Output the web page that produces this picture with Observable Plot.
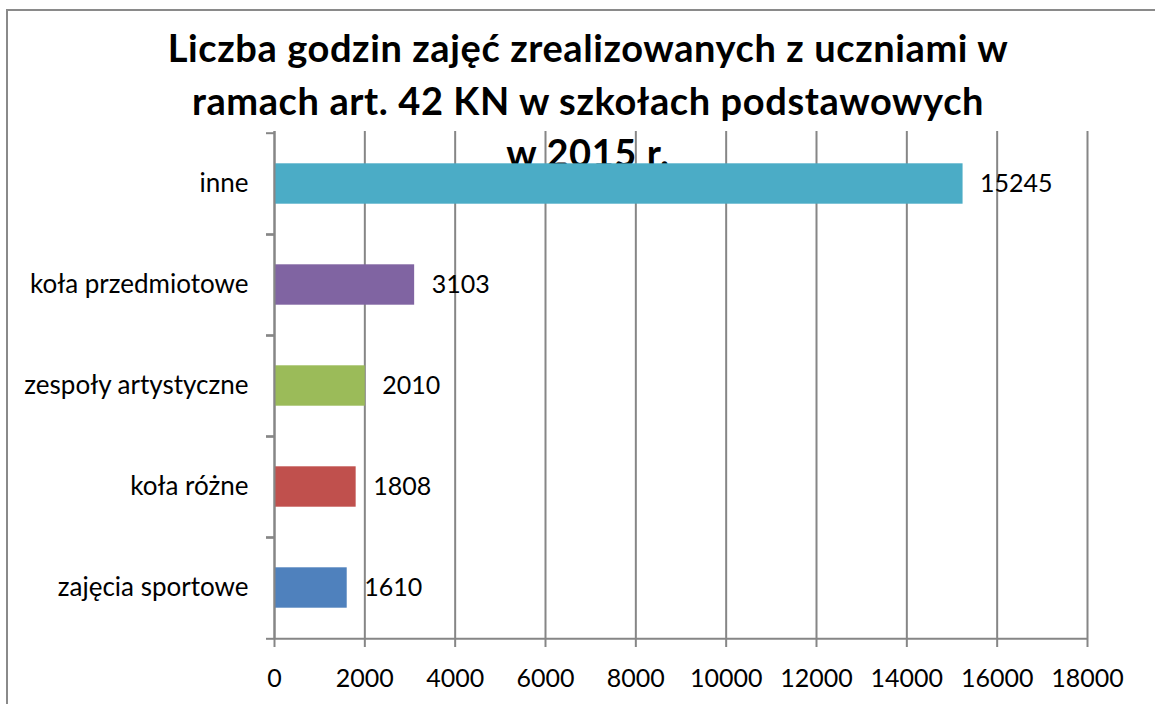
<!DOCTYPE html>
<html>
<head>
<meta charset="utf-8">
<script src="https://cdn.jsdelivr.net/npm/d3@7"></script>
<script src="https://cdn.jsdelivr.net/npm/@observablehq/plot@0.6"></script>
<style>
  html, body { margin: 0; padding: 0; background: white; }
  #wrap { position: relative; width: 1155px; height: 704px; overflow: hidden; font-family: Lato, "Open Sans", sans-serif; }
  #border { position: absolute; left: 6px; top: 9px; width: 1300px; height: 800px; border-left: 2px solid #8a8a8a; border-top: 2px solid #8a8a8a; z-index: 0; }
  #title { position: absolute; left: 0; top: 21px; width: 1176px; text-align: center; font-weight: bold; font-size: 38px; letter-spacing: 0.6px; line-height: 52.5px; color: #000; z-index: 1; }
  #chart { position: absolute; left: 0; top: 0; z-index: 2; }
</style>
</head>
<body>
<div id="wrap">
  <div id="border"></div>
  <div id="title">Liczba godzin zajęć zrealizowanych z uczniami w<br>ramach art. 42 KN w szkołach podstawowych<br>w 2015 r.</div>
  <div id="chart"></div>
</div>
<script>
const categories = ["zajęcia sportowe", "koła różne", "zespoły artystyczne", "koła przedmiotowe", "inne"];
const values = [1610, 1808, 2010, 3103, 15245];
const colors = ["#4F81BD", "#C0504D", "#9BBB59", "#8064A2", "#4BACC6"];
const xTicks = [0, 2000, 4000, 6000, 8000, 10000, 12000, 14000, 16000, 18000];

const data = categories.map((c, i) => ({category: c, value: values[i], color: colors[i]}));

const width = 1155, height = 704;
const marginTop = 131, marginBottom = 65, marginLeft = 274, marginRight = 68;
const step = (height - marginTop - marginBottom) / categories.length;
const barH = 41;
const inset = (step - barH) / 2;
const gray = "#868686";

const chart = Plot.plot({
  width, height, marginTop, marginBottom, marginLeft, marginRight,
  style: {background: "transparent", fontFamily: "Lato, 'Open Sans', sans-serif", fontSize: "25px", color: "#000"},
  x: {domain: [0, 18000], ticks: xTicks, label: null},
  y: {domain: categories.slice().reverse(), padding: 0, label: null},
  marks: [
    Plot.gridX(xTicks, {stroke: gray, strokeOpacity: 1, strokeWidth: 2}),
    Plot.axisX({ticks: xTicks, tickSize: 8, tickPadding: 22, stroke: gray, strokeWidth: 2, fontSize: 25, tickFormat: d => String(d), fill: "#000"}),
    Plot.axisY({tickSize: 8, tickFormat: () => "", dy: step / 2, stroke: gray, strokeWidth: 2}),
    Plot.axisY({tickSize: 8, tickFormat: () => "", dy: -step / 2, stroke: gray, strokeWidth: 2}),
    Plot.axisY({tickSize: 0, tickPadding: 26, fontSize: 26, fill: "#000", style: "letter-spacing: 0.5px"}),
    Plot.barX(data, {y: "category", x: "value", fill: d => d.color, insetTop: inset, insetBottom: inset}),
    Plot.ruleX([0], {stroke: gray, strokeWidth: 2}),
    Plot.ruleY(data.slice(0, 1), {y: "category", dy: step / 2, stroke: gray, strokeWidth: 2, x1: 0, x2: 18000}),
    Plot.text(data, {y: "category", x: "value", text: d => String(d.value), dx: 17, textAnchor: "start", fontSize: 25, fill: "#000"})
  ]
});
document.getElementById("chart").appendChild(chart);
</script>
</body>
</html>
